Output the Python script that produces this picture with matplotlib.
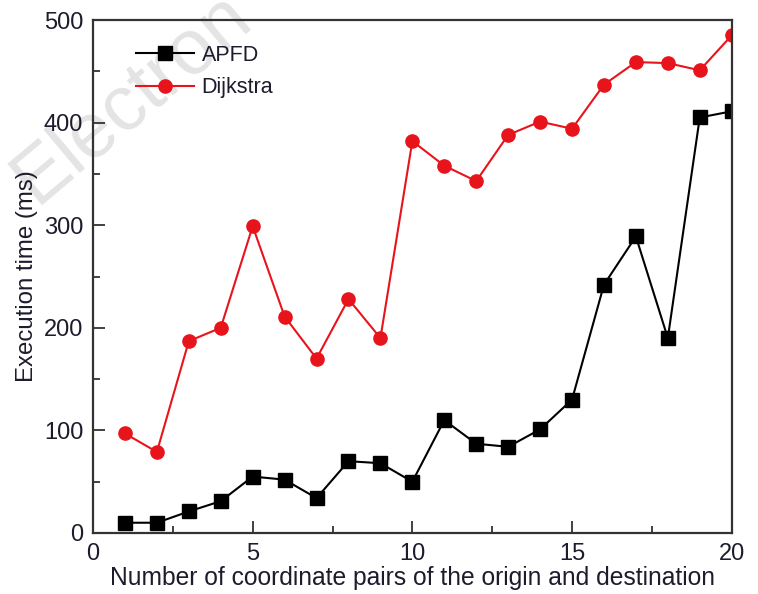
import matplotlib
matplotlib.use('Agg')
import matplotlib.pyplot as plt
from matplotlib.ticker import MultipleLocator

plt.rcParams['font.family'] = ['Liberation Sans', 'DejaVu Sans']

pairs = list(range(1, 21))
apfd = [10, 10, 21, 31, 55, 52, 34, 70, 68, 50,
        110, 87, 84, 101, 130, 242, 289, 190, 405, 411]
dijkstra = [97, 79, 187, 200, 299, 211, 170, 228, 190, 382,
            358, 343, 388, 401, 394, 437, 459, 458, 451, 485]

txt = '#1c1c2c'

fig = plt.figure(figsize=(7.58, 5.94), dpi=100)
ax = fig.add_axes([0.1227, 0.1027, 0.8426, 0.8636])
ax.set_facecolor('none')

# faint watermark behind everything
fig.text(0.047, 0.655, 'Electron', fontsize=56, color='#e4e4e4',
         rotation=40, rotation_mode='anchor', ha='left', va='baseline',
         zorder=-10)

ax.plot(pairs, apfd, color='black', marker='s', markersize=10,
        linewidth=1.5, label='APFD')
ax.plot(pairs, dijkstra, color='#e8141c', marker='o', markersize=9.5,
        linewidth=1.5, label='Dijkstra')

ax.set_xlim(0, 20)
ax.set_ylim(0, 500)
ax.xaxis.set_major_locator(MultipleLocator(5))
ax.xaxis.set_minor_locator(MultipleLocator(2.5))
ax.yaxis.set_major_locator(MultipleLocator(100))
ax.yaxis.set_minor_locator(MultipleLocator(50))
ax.tick_params(which='both', direction='in', top=False, right=False,
               labelsize=17, labelcolor=txt, color='#333333')
ax.tick_params(which='major', length=8.5, width=1.3, pad=7)
ax.tick_params(which='minor', length=5, width=1.3)
for s in ax.spines.values():
    s.set_linewidth(1.6)
    s.set_color('#333333')

ax.set_xlabel('Number of coordinate pairs of the origin and destination',
              fontsize=17.7, labelpad=1, color=txt)
ax.set_ylabel('Execution time (ms)', fontsize=17.3, labelpad=4, color=txt)

ax.legend(loc='upper left', bbox_to_anchor=(0.037, 0.99), frameon=False,
          fontsize=15.5, handlelength=2.7, handletextpad=0.35,
          labelspacing=0.55, labelcolor=txt)

fig.savefig('out.png', dpi=100)
